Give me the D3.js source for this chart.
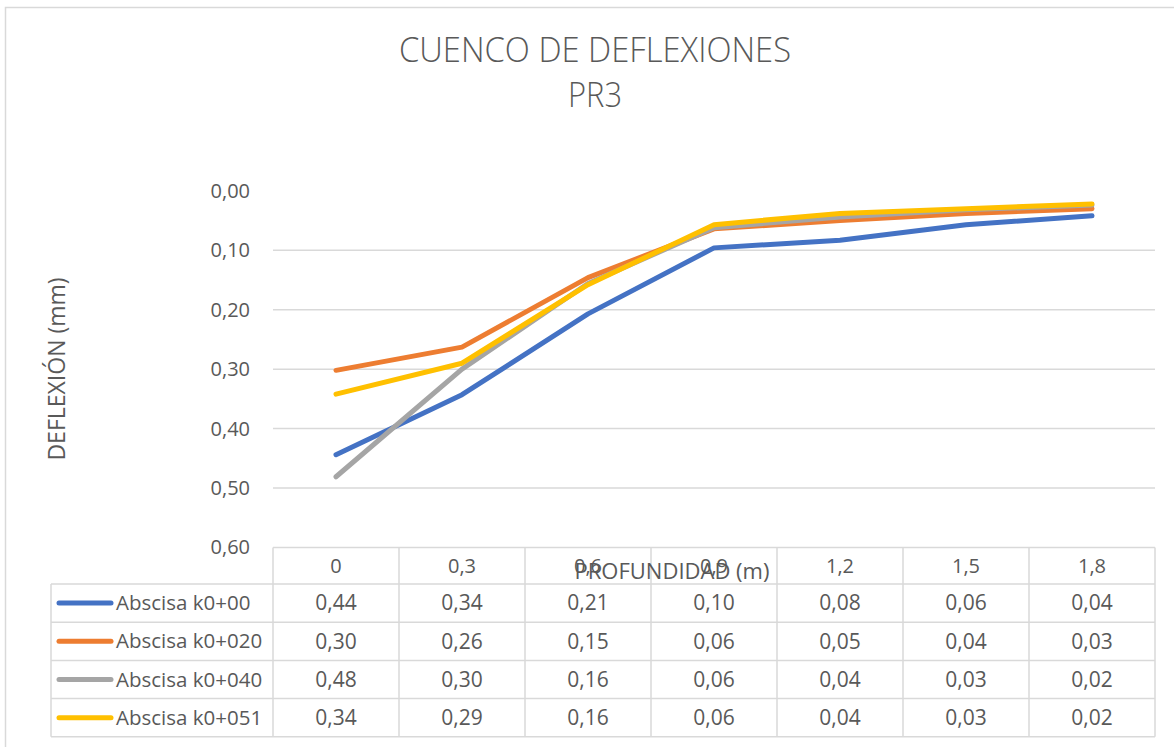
<!DOCTYPE html>
<html>
<head>
<meta charset="utf-8">
<script src="https://cdn.jsdelivr.net/npm/d3@7"></script>
<style>
  body { margin: 0; background: #fff; }
  text { font-family: 'Open Sans', sans-serif; fill: #595959; }
</style>
</head>
<body>
<div id="chart"></div>
<script>
const width = 1174
const height = 747

const categories = [0, 0.3, 0.6, 0.9, 1.2, 1.5, 1.8]
const seriesNames = ['Abscisa k0+00', 'Abscisa k0+020', 'Abscisa k0+040', 'Abscisa k0+051']
const seriesColors = ['#4472C4', '#ED7D31', '#A5A5A5', '#FFC000']

const k000 = [0.444, 0.343, 0.207, 0.096, 0.083, 0.057, 0.042]
const k020 = [0.302, 0.263, 0.146, 0.064, 0.050, 0.038, 0.030]
const k040 = [0.481, 0.300, 0.156, 0.062, 0.044, 0.032, 0.024]
const k051 = [0.342, 0.290, 0.158, 0.057, 0.038, 0.030, 0.022]

const yTicks = [0, 0.1, 0.2, 0.3, 0.4, 0.5, 0.6]

const series = [k000, k020, k040, k051].map((values, i) => ({
  name: seriesNames[i],
  color: seriesColors[i],
  values
}))

const comma = v => v.replace('.', ',')
const fmt2 = v => comma(d3.format('.2f')(v))

const plotLeft = 273
const plotRight = 1155
const plotTop = 190.8
const plotBottom = 547.5
const tableLeft = 51
const rowH = 38.2

const svg = d3
  .select('#chart')
  .append('svg')
  .attr('width', width)
  .attr('height', height)

// chart border
svg
  .append('rect')
  .attr('x', 5.5)
  .attr('y', 7.5)
  .attr('width', 1200)
  .attr('height', 800)
  .attr('fill', 'none')
  .attr('stroke', '#D9D9D9')
  .attr('stroke-width', 1.5)

const x = d3.scaleBand().domain(categories).range([plotLeft, plotRight])
const y = d3.scaleLinear().domain([0, 0.6]).range([plotTop, plotBottom])
const bw = x.bandwidth()

// gridlines
svg
  .append('g')
  .selectAll('line')
  .data(yTicks.filter(d => d > 0 && d < 0.6))
  .enter()
  .append('line')
  .attr('x1', plotLeft)
  .attr('x2', plotRight)
  .attr('y1', d => y(d))
  .attr('y2', d => y(d))
  .attr('stroke', '#D9D9D9')
  .attr('stroke-width', 1.5)

// y axis
const yAxis = svg
  .append('g')
  .attr('transform', `translate(${plotLeft},0)`)
  .call(
    d3.axisLeft(y)
      .tickValues(yTicks)
      .tickSize(0)
      .tickPadding(23)
      .tickFormat(fmt2)
  )
yAxis.select('.domain').remove()
yAxis
  .selectAll('text')
  .style('font-size', '20px')
  .style('font-family', "'Open Sans', sans-serif")
  .attr('fill', '#595959')

// table grid
const rowTops = [plotBottom, plotBottom + 36.5]
for (let i = 1; i <= series.length; i++) rowTops.push(rowTops[1] + i * rowH)
const tableBottom = rowTops[rowTops.length - 1]
const grid = svg.append('g').attr('stroke', '#D9D9D9').attr('stroke-width', 1.5)
grid.append('line').attr('x1', plotLeft).attr('x2', plotRight).attr('y1', rowTops[0]).attr('y2', rowTops[0])
rowTops.slice(1).forEach(t => {
  grid.append('line').attr('x1', tableLeft).attr('x2', plotRight).attr('y1', t).attr('y2', t)
})
grid.append('line').attr('x1', tableLeft).attr('x2', tableLeft).attr('y1', rowTops[1]).attr('y2', tableBottom)
categories.forEach(c => {
  grid.append('line').attr('x1', x(c)).attr('x2', x(c)).attr('y1', rowTops[0]).attr('y2', tableBottom)
})
grid.append('line').attr('x1', plotRight).attr('x2', plotRight).attr('y1', rowTops[0]).attr('y2', tableBottom)

// header labels
svg
  .append('g')
  .selectAll('text')
  .data(categories)
  .enter()
  .append('text')
  .attr('x', d => x(d) + bw / 2)
  .attr('y', (rowTops[0] + rowTops[1]) / 2)
  .attr('dy', '0.35em')
  .attr('text-anchor', 'middle')
  .style('font-size', '20px')
  .text(d => comma(String(d)))

// table rows
series.forEach((s, i) => {
  const cy = (rowTops[i + 1] + rowTops[i + 2]) / 2
  const row = svg.append('g')
  row
    .append('line')
    .attr('x1', 59)
    .attr('x2', 111)
    .attr('y1', cy)
    .attr('y2', cy)
    .attr('stroke', s.color)
    .attr('stroke-width', 5)
    .attr('stroke-linecap', 'round')
  row
    .append('text')
    .attr('x', 116)
    .attr('y', cy)
    .attr('dy', '0.35em')
    .style('font-size', '20.5px')
    .text(s.name)
  row
    .selectAll('.val')
    .data(s.values)
    .enter()
    .append('text')
    .attr('class', 'val')
    .attr('x', (d, j) => x(categories[j]) + bw / 2)
    .attr('y', cy)
    .attr('dy', '0.35em')
    .attr('text-anchor', 'middle')
    .style('font-size', '21px')
    .text(d => fmt2(d))
})

// lines
const line = d3
  .line()
  .x((d, j) => x(categories[j]) + bw / 2)
  .y(d => y(d))

svg
  .append('g')
  .selectAll('path')
  .data(series)
  .enter()
  .append('path')
  .attr('d', d => line(d.values))
  .attr('fill', 'none')
  .attr('stroke', d => d.color)
  .attr('stroke-width', 5)
  .attr('stroke-linecap', 'round')
  .attr('stroke-linejoin', 'round')

// titles
svg
  .append('text')
  .attr('x', 595)
  .attr('y', 62)
  .attr('text-anchor', 'middle')
  .attr('textLength', 392)
  .attr('lengthAdjust', 'spacingAndGlyphs')
  .style('font-size', '34px')
  .style('font-weight', 300)
  .text('CUENCO DE DEFLEXIONES')
svg
  .append('text')
  .attr('x', 595)
  .attr('y', 107)
  .attr('text-anchor', 'middle')
  .attr('textLength', 54)
  .attr('lengthAdjust', 'spacingAndGlyphs')
  .style('font-size', '34px')
  .style('font-weight', 300)
  .text('PR3')

svg
  .append('text')
  .attr('transform', 'translate(57,369) rotate(-90)')
  .attr('text-anchor', 'middle')
  .attr('dy', '0.35em')
  .style('font-size', '23px')
  .text('DEFLEXIÓN (mm)')

svg
  .append('text')
  .attr('x', 672)
  .attr('y', 571)
  .attr('dy', '0.35em')
  .attr('text-anchor', 'middle')
  .style('font-size', '22px')
  .text('PROFUNDIDAD (m)')
</script>
</body>
</html>
